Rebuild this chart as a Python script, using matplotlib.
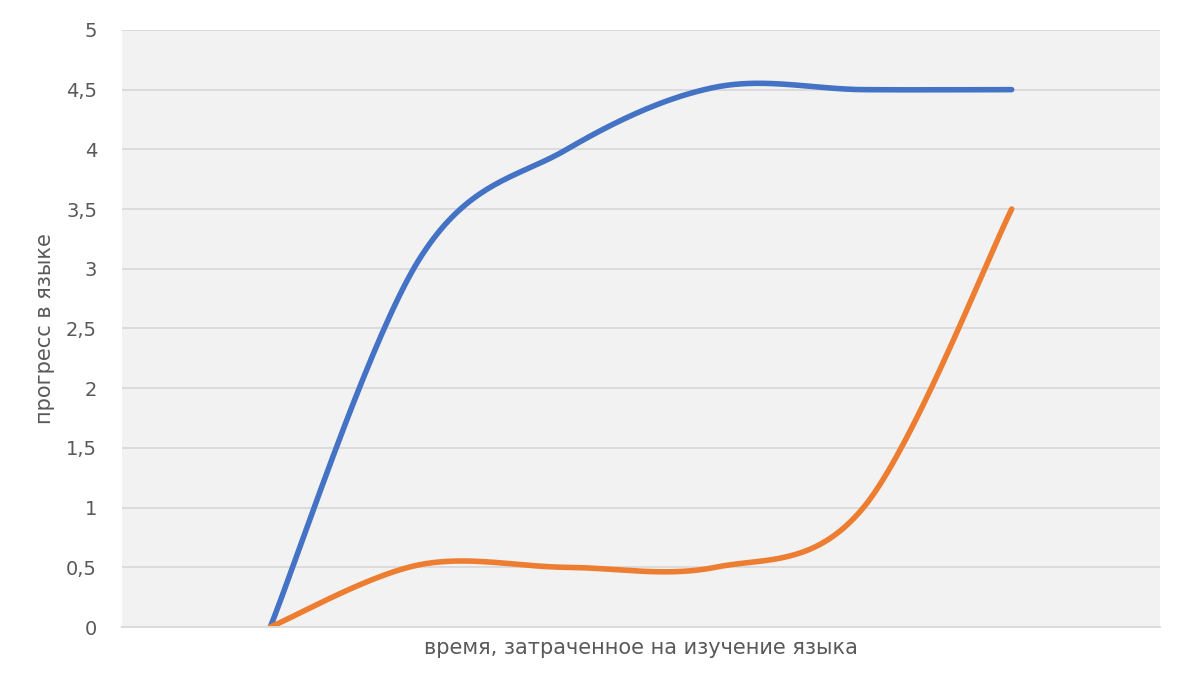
import matplotlib.pyplot as plt
import numpy as np

# категории 1..6 на оси 0..7 (крайние пустые, как в Excel)
categories = [1, 2, 3, 4, 5, 6]
blue_values = [0, 3.07, 4.0, 4.52, 4.5, 4.5]
orange_values = [0, 0.52, 0.5, 0.5, 1.0, 3.5]
y_ticks = [0, 0.5, 1, 1.5, 2, 2.5, 3, 3.5, 4, 4.5, 5]
y_tick_labels = ["0", "0,5", "1", "1,5", "2", "2,5", "3", "3,5", "4", "4,5", "5"]


def smooth(xs, ys, n=40):
    # сглаживание Catmull-Rom, похоже на "сглаженную линию" Excel
    xs = np.asarray(xs, float)
    ys = np.asarray(ys, float)
    px = np.concatenate([[xs[0]], xs, [xs[-1]]])
    py = np.concatenate([[ys[0]], ys, [ys[-1]]])
    out_x, out_y = [], []
    t = np.linspace(0, 1, n)
    for i in range(1, len(px) - 2):
        p0, p1, p2, p3 = [np.array([px[j], py[j]]) for j in (i - 1, i, i + 1, i + 2)]
        c1 = p1 + (p2 - p0) / 6
        c2 = p2 - (p3 - p1) / 6
        pts = ((1 - t) ** 3)[:, None] * p1 + (3 * (1 - t) ** 2 * t)[:, None] * c1 \
            + (3 * (1 - t) * t ** 2)[:, None] * c2 + (t ** 3)[:, None] * p2
        out_x.extend(pts[:, 0])
        out_y.extend(pts[:, 1])
    return out_x, out_y


fig = plt.figure(figsize=(11.88, 6.96), dpi=100)
ax = fig.add_axes([0.1027, 0.0991, 0.8737, 0.8579])
ax.set_facecolor("#f2f2f2")

for vals, color in ((blue_values, "#4472c4"), (orange_values, "#ed7d31")):
    sx, sy = smooth(categories, vals)
    ax.plot(sx, sy, color=color, linewidth=4, solid_capstyle="round")

ax.set_xlim(0, 7)
ax.set_ylim(0, 5)
ax.set_xticks([])
ax.set_yticks(y_ticks)
ax.set_yticklabels(y_tick_labels)
ax.tick_params(axis="y", length=0, labelsize=14, labelcolor="#595959", pad=18)
ax.grid(axis="y", color="#d9d9d9", linewidth=1.3)
ax.set_axisbelow(True)
for side in ("top", "right", "left"):
    ax.spines[side].set_visible(False)
ax.spines["bottom"].set_color("#d9d9d9")
ax.spines["bottom"].set_linewidth(1.3)

ax.set_xlabel("время, затраченное на изучение языка", fontsize=15, color="#595959", labelpad=8)
ax.set_ylabel("прогресс в языке", fontsize=15, color="#595959", labelpad=8)

fig.savefig("out.png", dpi=100)
